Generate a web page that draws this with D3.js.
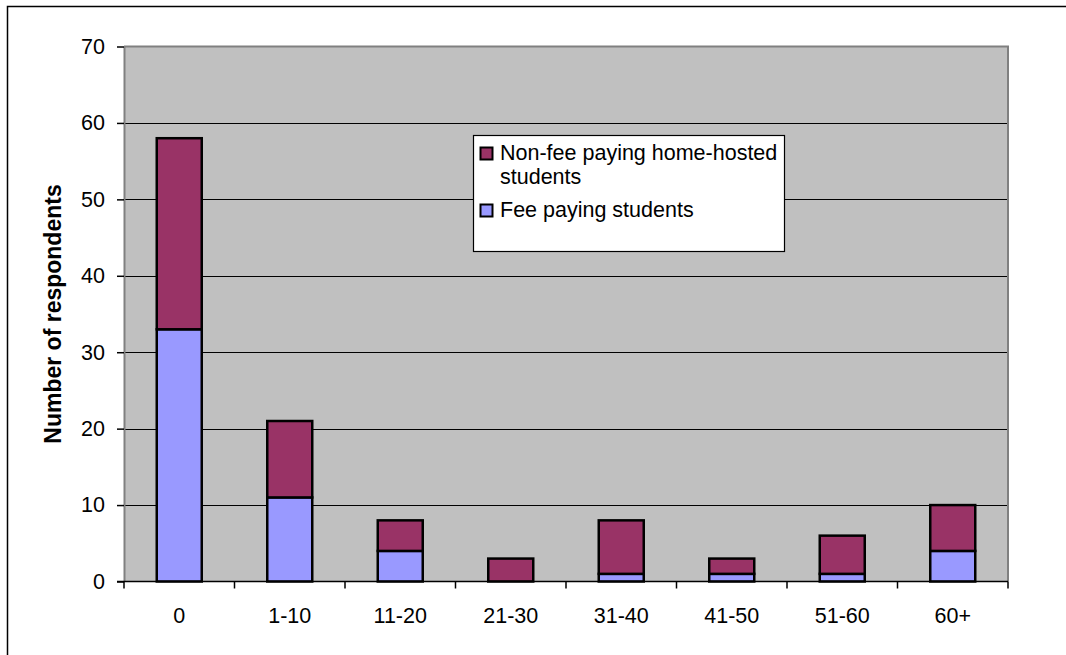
<!DOCTYPE html>
<html>
<head>
<meta charset="utf-8">
<script src="https://cdn.jsdelivr.net/npm/d3@7"></script>
<style>
  html, body { margin: 0; padding: 0; background: #fff; }
  svg { display: block; }
  text { font-family: "Liberation Sans", Arial, sans-serif; }
</style>
</head>
<body>
<svg id="chart" width="1066" height="655"></svg>
<script>
// Respondent counts by number of students hosted
const categories = ["0", "1-10", "11-20", "21-30", "31-40", "41-50", "51-60", "60+"];
const feePaying = [33, 11, 4, 0, 1, 1, 1, 4];
const nonFeePaying = [25, 10, 4, 3, 7, 2, 5, 6];
const yTicks = [0, 10, 20, 30, 40, 50, 60, 70];
const colors = { fee: "#9999FF", nonFee: "#993366" };

const svg = d3.select("#chart");
const FONT = 21.5;

// Outer chart frame (open on the right and bottom edges)
svg.append("rect")
  .attr("x", 7.5).attr("y", 6.5)
  .attr("width", 1100).attr("height", 700)
  .attr("fill", "none").attr("stroke", "#000").attr("stroke-width", 1.5);

const plot = { left: 124, top: 46.5, right: 1008, bottom: 581.5 };

const x = d3.scaleBand().domain(categories).range([plot.left, plot.right]).paddingInner(0).paddingOuter(0);
const y = d3.scaleLinear().domain([0, 70]).range([plot.bottom, plot.top]);

// Plot background
svg.append("rect")
  .attr("x", plot.left).attr("y", plot.top)
  .attr("width", plot.right - plot.left).attr("height", plot.bottom - plot.top)
  .attr("fill", "#C0C0C0");

// Horizontal gridlines
svg.append("g").selectAll("line")
  .data(yTicks.filter(t => t > 0 && t < 70))
  .join("line")
  .attr("x1", plot.left).attr("x2", plot.right)
  .attr("y1", d => Math.round(y(d)) + 0.5).attr("y2", d => Math.round(y(d)) + 0.5)
  .attr("stroke", "#000").attr("stroke-width", 1);

// Plot border: top and right in grey
svg.append("path")
  .attr("d", `M${plot.left},${plot.top}H${plot.right}V${plot.bottom}`)
  .attr("fill", "none").attr("stroke", "#808080").attr("stroke-width", 2);

// Stacked data
const rows = categories.map((c, i) => ({ cat: c, fee: feePaying[i], nonFee: nonFeePaying[i] }));
const stack = d3.stack().keys(["fee", "nonFee"])(rows);

const barW = 45;
svg.append("g").selectAll("g")
  .data(stack)
  .join("g")
  .attr("fill", d => colors[d.key])
  .selectAll("rect")
  .data(d => d.filter(p => p[1] - p[0] > 0))
  .join("rect")
  .attr("x", d => x(d.data.cat) + x.bandwidth() / 2 - barW / 2)
  .attr("y", d => y(d[1]))
  .attr("width", barW)
  .attr("height", d => y(d[0]) - y(d[1]))
  .attr("stroke", "#000").attr("stroke-width", 2.5);

// Y axis
const yAxis = svg.append("g")
  .attr("transform", `translate(${plot.left},0)`)
  .call(d3.axisLeft(y).tickValues(yTicks).tickSize(7).tickPadding(12).tickSizeOuter(0));
yAxis.select(".domain").attr("stroke", "#808080").attr("stroke-width", 2);
yAxis.selectAll(".tick line").attr("stroke", "#000").attr("stroke-width", 1.5);
yAxis.selectAll(".tick text")
  .attr("font-size", FONT).attr("fill", "#000")
  .attr("font-family", "'Liberation Sans', Arial, sans-serif");

// X axis with ticks at category boundaries
const xAxisG = svg.append("g").attr("transform", `translate(0,${plot.bottom})`);
xAxisG.append("line")
  .attr("x1", plot.left - 7).attr("x2", plot.right)
  .attr("stroke", "#000").attr("stroke-width", 1.5);
const boundaries = categories.map(c => x(c)).concat([x(categories[categories.length - 1]) + x.bandwidth()]);
xAxisG.selectAll(".bt").data(boundaries).join("line")
  .attr("x1", d => d).attr("x2", d => d)
  .attr("y1", 0).attr("y2", 7)
  .attr("stroke", "#000").attr("stroke-width", 1.5);
xAxisG.selectAll(".lbl").data(categories).join("text")
  .attr("x", d => x(d) + x.bandwidth() / 2)
  .attr("y", 41.5)
  .attr("text-anchor", "middle")
  .attr("font-size", FONT).attr("fill", "#000")
  .text(d => d);

// Y axis title
svg.append("text")
  .attr("transform", `translate(61,${(plot.top + plot.bottom) / 2}) rotate(-90)`)
  .attr("text-anchor", "middle")
  .attr("font-size", 23).attr("font-weight", "bold").attr("fill", "#000")
  .text("Number of respondents");

// Legend
const lg = svg.append("g");
lg.append("rect")
  .attr("x", 473.5).attr("y", 135.5).attr("width", 311).attr("height", 116)
  .attr("fill", "#fff").attr("stroke", "#000").attr("stroke-width", 1.2);
const legendItems = [
  { key: "nonFee", lines: ["Non-fee paying home-hosted", "students"], y: 147 },
  { key: "fee", lines: ["Fee paying students"], y: 204 }
];
legendItems.forEach(item => {
  lg.append("rect")
    .attr("x", 480.5).attr("y", item.y + 0.5).attr("width", 12).attr("height", 12)
    .attr("fill", colors[item.key]).attr("stroke", "#000").attr("stroke-width", 2);
  const t = lg.append("text")
    .attr("x", 500).attr("y", item.y + 13)
    .attr("font-size", FONT).attr("fill", "#000");
  item.lines.forEach((ln, i) => {
    t.append("tspan").attr("x", 500).attr("dy", i === 0 ? 0 : 24).text(ln);
  });
});
</script>
</body>
</html>
